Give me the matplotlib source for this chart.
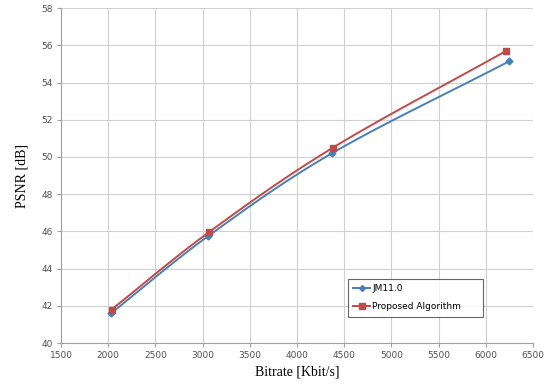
import numpy as np
import matplotlib
matplotlib.use("Agg")
import matplotlib.pyplot as plt

# 数据
jm_bitrate = [2030, 3060, 4370, 6250]
jm_psnr = [41.6, 45.75, 50.2, 55.15]
prop_bitrate = [2035, 3065, 4380, 6215]
prop_psnr = [41.8, 45.95, 50.5, 55.7]

x_ticks = np.arange(1500, 6501, 500)
y_ticks = np.arange(40, 58.1, 2)


def smooth(x, y, n=40):
    # Catmull-Rom 平滑，模仿 Excel 的平滑线
    x = np.asarray(x, float)
    y = np.asarray(y, float)
    px = np.concatenate([[2 * x[0] - x[1]], x, [2 * x[-1] - x[-2]]])
    py = np.concatenate([[2 * y[0] - y[1]], y, [2 * y[-1] - y[-2]]])
    t = np.linspace(0, 1, n)
    xs, ys = [], []
    for i in range(1, len(px) - 2):
        for p, out in ((px, xs), (py, ys)):
            p0, p1, p2, p3 = p[i - 1], p[i], p[i + 1], p[i + 2]
            out.append(
                0.5
                * (
                    2 * p1
                    + (-p0 + p2) * t
                    + (2 * p0 - 5 * p1 + 4 * p2 - p3) * t**2
                    + (-p0 + 3 * p1 - 3 * p2 + p3) * t**3
                )
            )
    return np.concatenate(xs), np.concatenate(ys)


fig = plt.figure(figsize=(5.5, 3.9), dpi=100)
ax = fig.add_axes([0.111, 0.1205, 0.858, 0.8585])

blue = "#4a7ebb"
red = "#be4b48"

sx, sy = smooth(jm_bitrate, jm_psnr)
ax.plot(sx, sy, color=blue, lw=1.4)
ax.plot(jm_bitrate, jm_psnr, ls="none", marker="D", ms=3.5, color=blue)
sx, sy = smooth(prop_bitrate, prop_psnr)
ax.plot(sx, sy, color=red, lw=1.4)
ax.plot(prop_bitrate, prop_psnr, ls="none", marker="s", ms=4.5, color=red)

# 图例用的句柄
ax.plot([], [], color=blue, lw=1.4, marker="D", ms=3, label="JM11.0")
ax.plot([], [], color=red, lw=1.4, marker="s", ms=4, label="Proposed Algorithm")

ax.set_xlim(1500, 6500)
ax.set_ylim(40, 58)
ax.set_xticks(x_ticks)
ax.set_yticks(y_ticks)
ax.grid(True, color="#d0d0d0", lw=0.8)
ax.set_axisbelow(True)
for side in ["top", "right"]:
    ax.spines[side].set_visible(False)
for side in ["left", "bottom"]:
    ax.spines[side].set_color("#a0a0a0")
    ax.spines[side].set_linewidth(0.8)
ax.tick_params(axis="both", labelsize=6.5, colors="#505050", length=3,
               width=0.8, pad=3)
ax.tick_params(axis="both", color="#a0a0a0")

ax.set_xlabel("Bitrate [Kbit/s]", family="Liberation Serif", fontsize=10, labelpad=4)
ax.set_ylabel("PSNR [dB]", family="Liberation Serif", fontsize=10, labelpad=9)

leg = ax.legend(
    loc="lower left",
    bbox_to_anchor=(0.608, 0.078, 0.286, 0.119),
    bbox_transform=ax.transAxes,
    mode="expand",
    fontsize=6.5,
    frameon=True,
    fancybox=False,
    handlelength=1.8,
    handletextpad=0.3,
    labelspacing=1.0,
    borderaxespad=0,
    borderpad=0.6,
)
leg.get_frame().set_edgecolor("#404040")
leg.get_frame().set_linewidth(0.8)

fig.savefig("out.png", dpi=100)
